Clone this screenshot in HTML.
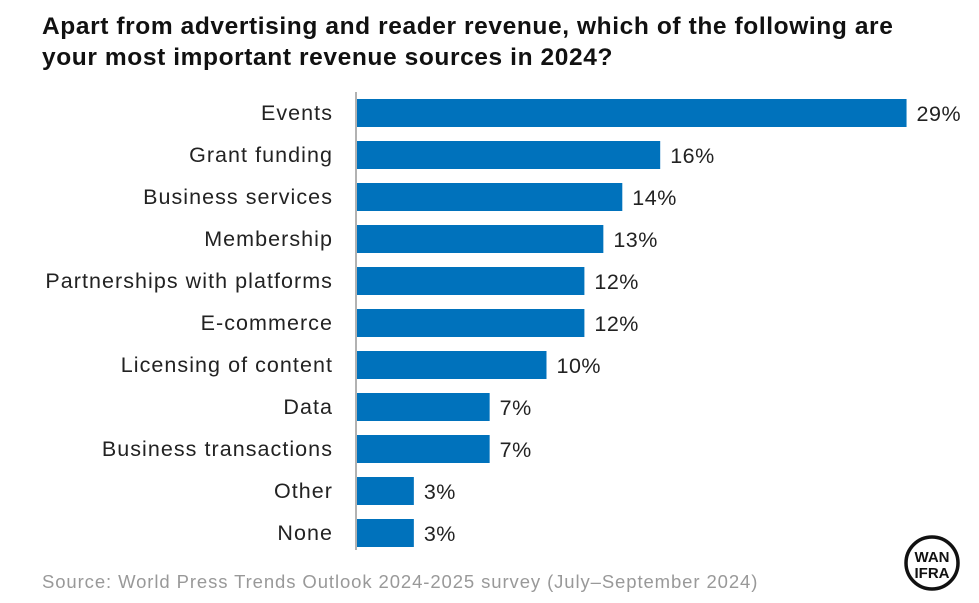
<!DOCTYPE html>
<html><head><meta charset="utf-8">
<style>
body{margin:0;background:#fff;font-family:"Liberation Sans",sans-serif;}
#wrap{position:relative;width:979px;height:603px;overflow:hidden;}
h1{position:absolute;left:42px;top:11px;margin:0;font-size:24.5px;line-height:31px;font-weight:bold;color:#111;width:930px;letter-spacing:0.6px;white-space:nowrap;}
#src{position:absolute;left:42px;top:571px;font-size:18.5px;color:#999;letter-spacing:0.9px;}
</style></head><body>
<div id="wrap">
<h1>Apart from advertising and reader revenue, which of the following are<br>your most important revenue sources in 2024?</h1>
<svg id="plot" width="979" height="603" style="position:absolute;left:0;top:0"></svg>
<div id="src">Source: World Press Trends Outlook 2024-2025 survey (July–September 2024)</div>
<svg width="60" height="60" style="position:absolute;left:902px;top:533px">
<circle cx="30" cy="30" r="26" fill="none" stroke="#111" stroke-width="3.5"/>
<text x="30" y="29" text-anchor="middle" font-size="15" font-weight="bold" font-family="Liberation Sans,sans-serif" fill="#111">WAN</text>
<text x="30" y="45" text-anchor="middle" font-size="15" font-weight="bold" font-family="Liberation Sans,sans-serif" fill="#111">IFRA</text>
</svg>
</div>
<script>
const categories=["Events","Grant funding","Business services","Membership","Partnerships with platforms","E-commerce","Licensing of content","Data","Business transactions","Other","None"];
const values=[29,16,14,13,12,12,10,7,7,3,3];
const valueLabels=["29%","16%","14%","13%","12%","12%","10%","7%","7%","3%","3%"];
const ns="http://www.w3.org/2000/svg";
const svg=document.getElementById('plot');
const x0=357,pxPer=18.95,yTop=99,step=42,barH=28;
function xs(v){return x0+v*pxPer;}
function ys(i){return yTop+i*step;}
function mk(t,a){const e=document.createElementNS(ns,t);for(const k in a)e.setAttribute(k,a[k]);svg.appendChild(e);return e;}
categories.forEach((c,i)=>{
  const r=mk('rect',{x:x0,y:ys(i),width:xs(values[i])-x0,height:barH,fill:'#0072BC'});
  
  
  const t=mk('text',{x:333,y:ys(i)+barH/2+7,'text-anchor':'end','font-size':21.5,'letter-spacing':1.05,fill:'#222','font-family':'Liberation Sans,sans-serif'});
  t.textContent=c;
  
  
  const v=mk('text',{x:xs(values[i])+10,y:ys(i)+barH/2+8,'font-size':21.5,'letter-spacing':0.5,fill:'#222','font-family':'Liberation Sans,sans-serif'});
  v.textContent=valueLabels[i];
  
  
});
const ax=mk('line',{x1:356,x2:356,y1:92,y2:550,stroke:'#999','stroke-width':1.5});


</script>
</body></html>
